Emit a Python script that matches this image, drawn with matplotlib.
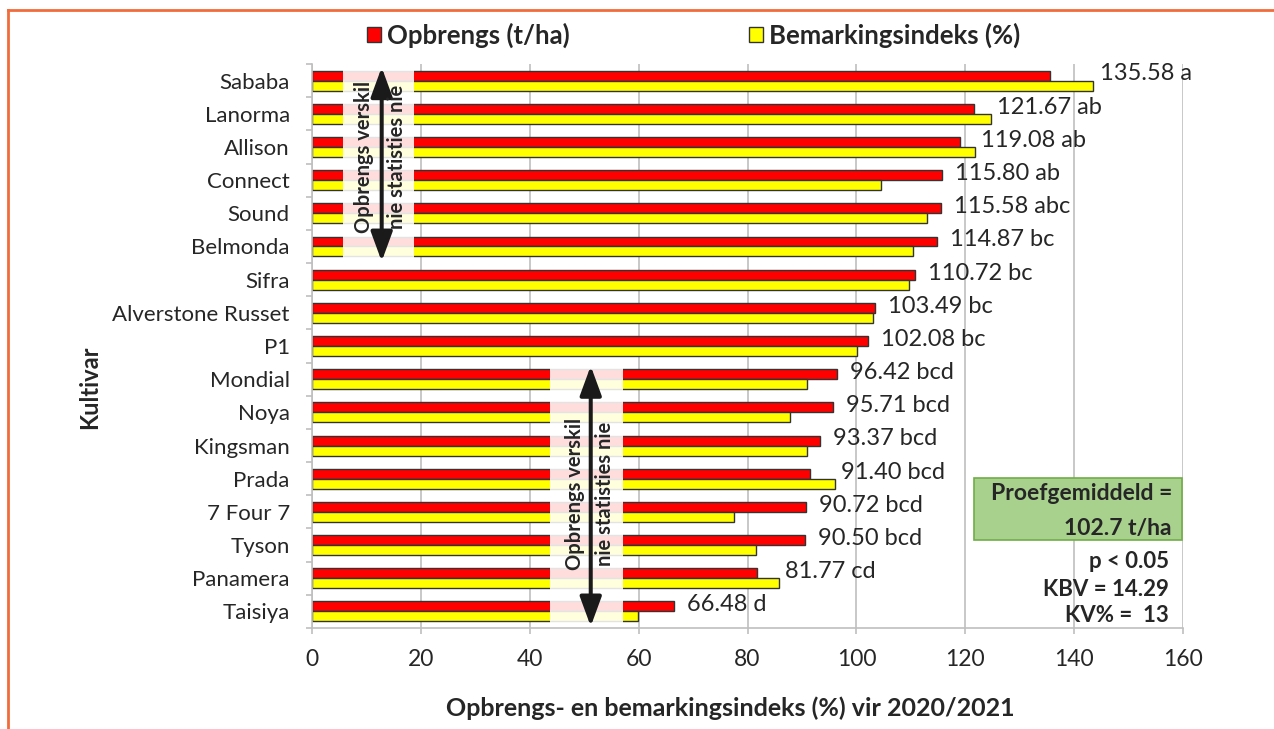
import numpy as np
import matplotlib.pyplot as plt
from matplotlib.patches import Rectangle
from matplotlib.lines import Line2D

plt.rcParams['font.family'] = ['Lato', 'DejaVu Sans']

cultivars = ['Sababa', 'Lanorma', 'Allison', 'Connect', 'Sound', 'Belmonda', 'Sifra',
             'Alverstone Russet', 'P1', 'Mondial', 'Noya', 'Kingsman', 'Prada',
             '7 Four 7', 'Tyson', 'Panamera', 'Taisiya']
yield_index = [135.58, 121.67, 119.08, 115.80, 115.58, 114.87, 110.72, 103.49, 102.08,
               96.42, 95.71, 93.37, 91.40, 90.72, 90.50, 81.77, 66.48]
market_index = [143.5, 124.7, 121.7, 104.5, 112.9, 110.4, 109.6, 103.1, 100.1,
                90.9, 87.8, 90.9, 96.0, 77.5, 81.5, 85.7, 59.9]
letters = ['a', 'ab', 'ab', 'ab', 'abc', 'bc', 'bc', 'bc', 'bc',
           'bcd', 'bcd', 'bcd', 'bcd', 'bcd', 'bcd', 'cd', 'd']

txt = '#262626'
grid = '#bfbfbf'

fig = plt.figure(figsize=(12.74, 7.29), dpi=100)
ax = fig.add_axes([0.2449, 0.1385, 0.6837, 0.7737])

y = np.arange(len(cultivars))
h = 0.3
ax.barh(y - h/2, yield_index, height=h, color='#ff0000', edgecolor='#333333',
        linewidth=1, label='Opbrengs (t/ha)', zorder=2)
ax.barh(y + h/2, market_index, height=h, color='#ffff00', edgecolor='#333333',
        linewidth=1, label='Bemarkingsindeks (%)', zorder=2)

# data labels next to the yield bar (pushed past the yellow bar when it is longer)
for i in range(len(cultivars)):
    xl = yield_index[i] + 2.4
    if market_index[i] > yield_index[i]:
        xl = max(xl, market_index[i] + 1.2)
    ax.text(xl, y[i] - h/2 - 0.05, '{:.2f} {}'.format(yield_index[i], letters[i]),
            va='center', ha='left', fontsize=17, color=txt, zorder=5)

ax.set_xlim(0, 160)
ax.set_ylim(len(cultivars) - 0.5, -0.5)
ax.set_xticks(np.arange(0, 161, 20))
ax.set_yticks(y)
ax.set_yticklabels(cultivars)
ax.set_yticks(np.arange(-0.5, len(cultivars)), minor=True)
ax.tick_params(axis='y', which='major', length=0, pad=16, labelsize=16, labelcolor=txt)
ax.tick_params(axis='y', which='minor', length=4, color=grid, width=1.2)
ax.tick_params(axis='x', length=4, color=grid, width=1.2, pad=11, labelsize=16.5, labelcolor=txt)
ax.grid(axis='x', color=grid, linewidth=1.2, zorder=0)
ax.set_axisbelow(True)
for s in ['top', 'right']:
    ax.spines[s].set_visible(False)
for s in ['left', 'bottom']:
    ax.spines[s].set_color(grid)
    ax.spines[s].set_linewidth(1.2)

ax.set_xlabel('Opbrengs- en bemarkingsindeks (%) vir 2020/2021', fontsize=18,
              fontweight='bold', color=txt, labelpad=19)
ax.xaxis.label.set_x(0.48)
ax.set_ylabel('Kultivar', fontsize=17, fontweight='bold', color=txt, labelpad=8)
ax.yaxis.label.set_y(0.427)

# "no significant difference" overlays with double arrows
for x0, x1, y0, y1, xa, xt1, xt2, yt in [(5.7, 18.7, -0.35, 5.35, 12.8, 9.6, 15.6, 2.3),
                                         (43.8, 57.1, 8.65, 16.35, 51.2, 48.3, 53.8, 12.45)]:
    ax.add_patch(Rectangle((x0, y0), x1 - x0, y1 - y0, facecolor='white', alpha=0.87,
                           edgecolor='none', zorder=3))
    ax.annotate('', xy=(xa, y0 - 0.05), xytext=(xa, y1 + 0.1),
                arrowprops=dict(arrowstyle='<|-|>,head_length=0.9,head_width=0.33',
                                mutation_scale=20, color='#1a1a1a', lw=2.9,
                                shrinkA=0, shrinkB=0), zorder=4)
    ax.text(xt1, yt, 'Opbrengs verskil', rotation=90, ha='center', va='center',
            fontsize=14.5, fontweight='bold', color=txt, zorder=5)
    ax.text(xt2, yt, 'nie statisties nie', rotation=90, ha='center', va='center',
            fontsize=14.5, fontweight='bold', color=txt, zorder=5)

# legend on top
fig.legend(loc='center', bbox_to_anchor=(0.5444, 0.952), ncol=2, frameon=False,
           prop={'weight': 'bold', 'size': 18.5}, handlelength=0.55, handleheight=0.55,
           handletextpad=0.2, columnspacing=7.0, labelcolor=txt)

# statistics box
fig.patches.append(Rectangle((0.7643, 0.2593), 0.1633, 0.085, transform=fig.transFigure,
                             facecolor='#a9d18e', edgecolor='#70ad47', linewidth=1.2))
fig.text(1172 / 1274, 1 - 493 / 729, 'Proefgemiddeld =', ha='right', va='center',
         fontsize=16.5, fontweight='bold', color=txt)
fig.text(1172 / 1274, 1 - 528 / 729, '102.7 t/ha', ha='right', va='center',
         fontsize=16.5, fontweight='bold', color=txt)
for yy, s in [(561, 'p < 0.05'), (589, 'KBV = 14.29'), (616, 'KV% =  13')]:
    fig.text(1169 / 1274, 1 - yy / 729, s, ha='right', va='center',
             fontsize=16, fontweight='bold', color=txt)

# orange frame
orange = '#f26b3a'
fig.add_artist(Line2D([8 / 1274, 1], [1 - 10 / 729, 1 - 10 / 729], color=orange, lw=2,
                      transform=fig.transFigure))
fig.add_artist(Line2D([8 / 1274, 8 / 1274], [0, 1 - 10 / 729], color=orange, lw=2,
                      transform=fig.transFigure))

fig.savefig('out.png', dpi=100)
